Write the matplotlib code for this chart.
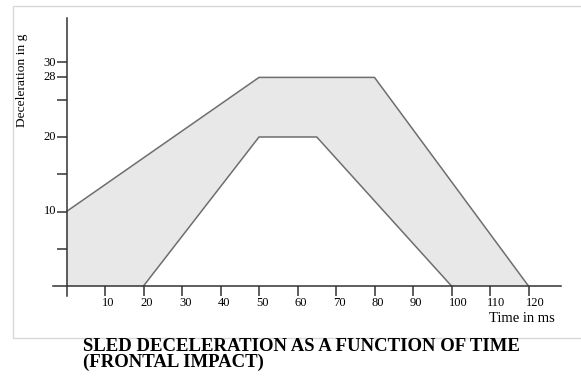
import matplotlib.pyplot as plt
from matplotlib.patches import Rectangle
from matplotlib.transforms import ScaledTranslation

# Corridor bounds (time in ms, deceleration in g)
outer_t = [0, 50, 80, 120]
outer_g = [10, 28, 28, 0]
inner_t = [20, 50, 65, 100]
inner_g = [0, 20, 20, 0]

x_ticks = [10, 20, 30, 40, 50, 60, 70, 80, 90, 100, 110, 120]
y_ticks = [5, 10, 15, 20, 25, 28, 30]
y_labels = ["", "10", "", "20", "", "28", "30"]

W, H = 581, 378
fig = plt.figure(figsize=(W / 100, H / 100), dpi=100)
serif = ["Liberation Serif", "DejaVu Serif"]

# axes placed so that data maps to the reference pixels
x0_px, px_per_ms = 66.5, 3.85
y0_px, px_per_g = 286, 7.45
left_px, right_px, top_px, bottom_px = 40, 575, 10, 315
ax = fig.add_axes([left_px / W, 1 - bottom_px / H,
                   (right_px - left_px) / W, (bottom_px - top_px) / H])
ax.set_xlim(-(x0_px - left_px) / px_per_ms, (right_px - x0_px) / px_per_ms)
ax.set_ylim(-(bottom_px - y0_px) / px_per_g, (y0_px - top_px) / px_per_g)
ax.patch.set_alpha(0)

# filled corridor between outer and inner curves
poly_t = [0] + outer_t + inner_t[::-1] + [0]
poly_g = [0] + outer_g + inner_g[::-1] + [0]
ax.fill(poly_t, poly_g, color="#e8e8e8", lw=0, zorder=1)
ax.plot(outer_t, outer_g, color="#6e6e6e", lw=1.1, zorder=2)
ax.plot(inner_t, inner_g, color="#6e6e6e", lw=1.1, zorder=2)

# axes lines through origin
for s in ["top", "right"]:
    ax.spines[s].set_visible(False)
ax.spines["left"].set_position(("data", 0))
ax.spines["bottom"].set_position(("data", 0))
ax.spines["left"].set_bounds(-1.4, 36)
ax.spines["bottom"].set_bounds(-3.5, 128.5)
for s in ["left", "bottom"]:
    ax.spines[s].set_color("#333333")
    ax.spines[s].set_linewidth(1.1)

ax.set_xticks(x_ticks)
ax.set_xticklabels([str(t) for t in x_ticks], family=serif, fontsize=9)
ax.set_yticks(y_ticks)
ax.set_yticklabels(y_labels, family=serif, fontsize=9)
ax.tick_params(axis="x", direction="out", length=7, width=1.1, color="#333333", pad=1)
ax.tick_params(axis="y", direction="out", length=7.5, width=1.1, color="#333333", pad=0)
shift = ScaledTranslation(-3 / 100, 0, fig.dpi_scale_trans)
for lbl in ax.get_xticklabels():
    lbl.set_horizontalalignment("left")
    lbl.set_transform(lbl.get_transform() + shift)
for lbl in ax.get_yticklabels():
    lbl.set_verticalalignment("center")

ax.text(126.8, -4.4, "Time in ms", family=serif, fontsize=10.5,
        ha="right", va="center", clip_on=False)
fig.text(22 / W, 1 - 80 / H, "Deceleration in g", family=serif, fontsize=9.7,
         rotation=90, ha="center", va="center")

# light frame around the plot area
fig.patches.append(Rectangle((13 / W, 1 - 338 / H), 1 - 13 / W + 0.01, 332 / H,
                             transform=fig.transFigure, fill=False,
                             edgecolor="#d8d8d8", lw=1))

fig.text(83 / W, 1 - 351 / H, "SLED DECELERATION AS A FUNCTION OF TIME",
         family=serif, fontsize=13.5, fontweight="bold", ha="left", va="baseline")
fig.text(83 / W, 1 - 367 / H, "(FRONTAL IMPACT)",
         family=serif, fontsize=13.5, fontweight="bold", ha="left", va="baseline")

fig.savefig("out.png", dpi=100)
